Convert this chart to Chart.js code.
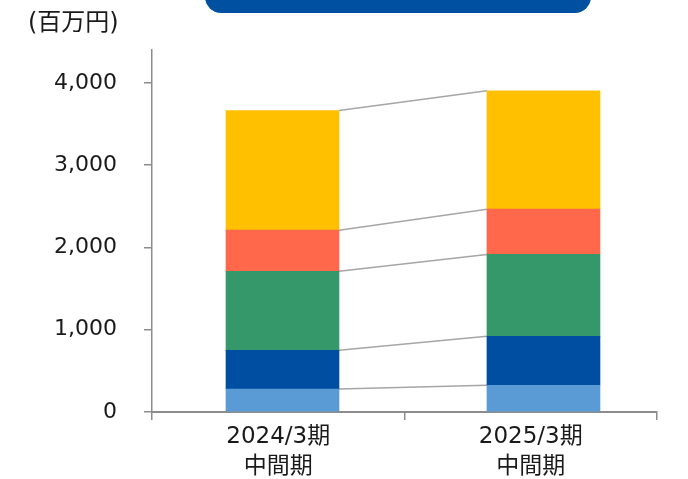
<!DOCTYPE html>
<html lang="ja">
<head>
    <meta charset="UTF-8">
    <title>Stacked results</title>
    <script src="https://cdn.jsdelivr.net/npm/chart.js"></script>
    <style>
        html, body { margin: 0; padding: 0; background: #fff; }
        #wrap { position: relative; width: 688px; height: 479px; }
    </style>
</head>
<body>
    <div id="wrap"><canvas id="chart" width="688" height="479"></canvas></div>
    <script>
        // periods on the x axis (two-line labels)
        const periods = [['2024/3期', '中間期'], ['2025/3期', '中間期']];
        // bar positions on the hidden numeric axis
        const barPos = [1, 2];

        // stacked segments, bottom to top (百万円)
        const segment1 = [280, 325];
        const segment2 = [470, 595];
        const segment3 = [960, 995];
        const segment4 = [500, 550];
        const segment5 = [1455, 1440];

        const yTicks = [0, 1000, 2000, 3000, 4000];
        const yMax = 4400;

        const colors = ['#5B9BD5', '#004EA2', '#35986A', '#FF684A', '#FFC000'];
        const fontFamily = "'DejaVu Sans', 'Noto Sans CJK JP', sans-serif";
        const axisGray = '#8C8C8C';

        // grey lines joining the top of each segment across the two bars
        const connectors = {
            id: 'connectors',
            beforeDatasetsDraw(chart) {
                const ctx = chart.ctx;
                ctx.save();
                ctx.strokeStyle = '#A6A6A6';
                ctx.lineWidth = 1.5;
                chart.data.datasets.forEach((ds, i) => {
                    const bars = chart.getDatasetMeta(i).data;
                    const a = bars[0], b = bars[1];
                    ctx.beginPath();
                    ctx.moveTo(a.x + a.width / 2, a.y);
                    ctx.lineTo(b.x - b.width / 2, b.y);
                    ctx.stroke();
                });
                ctx.restore();
            }
        };

        // unit label and the banner at the top edge
        const decorations = {
            id: 'decorations',
            afterDraw(chart) {
                const ctx = chart.ctx;
                ctx.save();
                ctx.fillStyle = '#0050A2';
                ctx.beginPath();
                ctx.roundRect(205, -20, 386, 33, 16);
                ctx.fill();
                ctx.fillStyle = '#1a1a1a';
                ctx.font = '24px ' + fontFamily;
                ctx.textBaseline = 'middle';
                ctx.textAlign = 'left';
                ctx.fillText('(百万円)', 28, 24);
                ctx.restore();
            }
        };

        const series = [segment1, segment2, segment3, segment4, segment5];

        new Chart(document.getElementById('chart'), {
            type: 'bar',
            data: {
                labels: periods,
                datasets: series.map((values, i) => ({
                    label: 'segment' + (i + 1),
                    data: values.map((v, j) => ({ x: barPos[j], y: v })),
                    xAxisID: 'xb',
                    backgroundColor: colors[i],
                    borderWidth: 0,
                    barThickness: 113
                }))
            },
            options: {
                responsive: false,
                animation: false,
                layout: { padding: { left: 0, right: 31, top: 50, bottom: 0 } },
                plugins: {
                    legend: { display: false },
                    tooltip: { enabled: false }
                },
                scales: {
                    x: {
                        type: 'category',
                        afterFit(scale) { scale.height = 67; },
                        border: { display: true, color: axisGray, width: 2 },
                        grid: {
                            offset: true,
                            drawOnChartArea: false,
                            drawTicks: true,
                            tickLength: 8,
                            color: axisGray,
                            lineWidth: 1.5
                        },
                        ticks: {
                            color: '#1a1a1a',
                            padding: 2,
                            maxRotation: 0,
                            font: { family: fontFamily, size: 23, lineHeight: 1.3 }
                        }
                    },
                    xb: {
                        type: 'linear',
                        display: false,
                        offset: false,
                        stacked: true,
                        min: 0.5,
                        max: 2.435
                    },
                    y: {
                        stacked: true,
                        min: 0,
                        max: yMax,
                        afterFit(scale) { scale.width = 152; },
                        afterBuildTicks(scale) {
                            scale.ticks = yTicks.map(v => ({ value: v }));
                        },
                        border: { display: true, color: axisGray, width: 1.5 },
                        grid: {
                            drawOnChartArea: false,
                            drawTicks: true,
                            tickLength: 8,
                            color: axisGray,
                            lineWidth: 1.5
                        },
                        ticks: {
                            color: '#1a1a1a',
                            padding: 27,
                            font: { family: fontFamily, size: 22 },
                            callback: v => v.toLocaleString('en-US')
                        }
                    }
                }
            },
            plugins: [connectors, decorations]
        });
    </script>
</body>
</html>
